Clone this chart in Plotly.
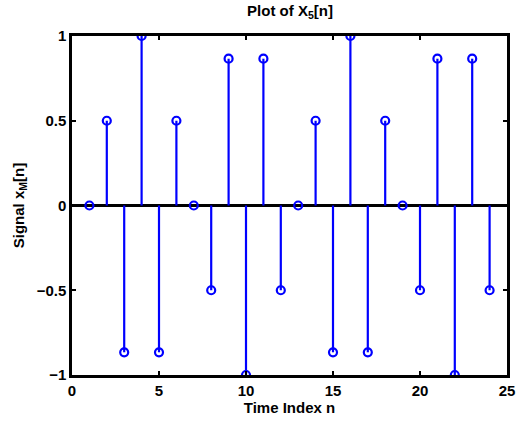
import plotly.graph_objects as go

n = list(range(1, 25))
x_vals = [0, 0.5, -0.866, 1, -0.866, 0.5, 0, -0.5, 0.866, -1, 0.866, -0.5,
          0, 0.5, -0.866, 1, -0.866, 0.5, 0, -0.5, 0.866, -1, 0.866, -0.5]
x_ticks = [0, 5, 10, 15, 20, 25]
y_ticks = [-1, -0.5, 0, 0.5, 1]
y_ticklabels = ["\u22121", "\u22120.5", "0", "0.5", "1"]

blue = "rgb(0,0,255)"
stem_x, stem_y = [], []
for xi, yi in zip(n, x_vals):
    stem_x += [xi, xi, None]
    stem_y += [0, yi, None]

fig = go.Figure()
fig.add_trace(go.Scatter(x=stem_x, y=stem_y, mode="lines",
                         line=dict(color=blue, width=2.2), hoverinfo="skip",
                         showlegend=False))
fig.add_trace(go.Scatter(x=n, y=x_vals, mode="markers",
                         marker=dict(symbol="circle-open", size=8, color=blue,
                                     line=dict(width=2.2, color=blue)),
                         showlegend=False))

font = dict(family="Liberation Sans, Arial, sans-serif", size=15, color="black", weight="bold")
fig.update_layout(
    width=516, height=423,
    margin=dict(l=72, r=9, t=36, b=48),
    paper_bgcolor="white", plot_bgcolor="white",
    font=font,
    title=dict(text="Plot of X<sub>5</sub>[n]", x=0.562, xanchor="center",
               y=0.987, yanchor="top", font=font),
)
fig.update_xaxes(range=[0, 25], tickvals=x_ticks, ticks="inside", ticklen=4,
                 tickwidth=1.5, tickcolor="black", showline=True, linewidth=2.5,
                 linecolor="black", mirror="ticks", showgrid=False, zeroline=False,
                 tickfont=font, automargin=False,
                 title=dict(text="Time Index n", font=font, standoff=0))
fig.update_yaxes(range=[-1, 1], tickvals=y_ticks, ticktext=y_ticklabels,
                 ticks="inside", ticklen=4, tickwidth=1.5, tickcolor="black",
                 showline=True, linewidth=2.5, linecolor="black", mirror="ticks",
                 showgrid=False, zeroline=True, zerolinecolor="black",
                 zerolinewidth=2.5, tickfont=font, automargin=False,
                 title=dict(text="Signal x<sub>M</sub>[n]", font=font, standoff=9))

fig.write_html("out.html")
